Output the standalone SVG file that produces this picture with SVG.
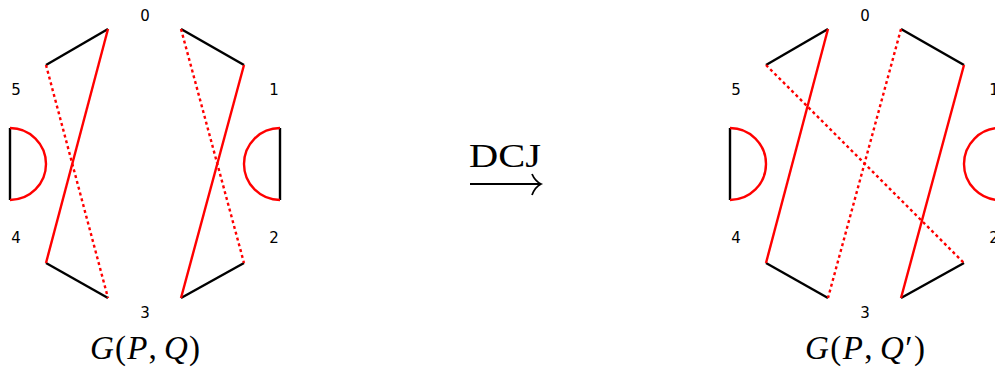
<svg xmlns="http://www.w3.org/2000/svg" width="995" height="370" viewBox="0 0 995 370">
<style>
.bk{stroke:#000;stroke-width:2.4;fill:none}
.rs{stroke:#f00;stroke-width:2.4;fill:none}
.rd{stroke:#f00;stroke-width:2.4;fill:none;stroke-dasharray:3,3}
.lbl{font-family:"DejaVu Sans",sans-serif;font-size:15px;fill:#000;text-anchor:middle}
.math{font-family:"Liberation Serif",serif;font-size:33px;fill:#000;text-anchor:middle}
</style>
<rect width="995" height="370" fill="#fff"/>
<g id="left-graph">
  <g id="L-edges">
    <line class="bk" x1="46" y1="65" x2="108" y2="29"/>
    <line class="bk" x1="181" y1="29" x2="244" y2="65"/>
    <line class="bk" x1="46" y1="263" x2="108" y2="298"/>
    <line class="bk" x1="181" y1="298" x2="244" y2="263"/>
    <line class="rs" x1="108" y1="29" x2="46" y2="263"/>
    <line class="rd" x1="46" y1="65" x2="108" y2="298"/>
    <line class="rs" x1="244" y1="65" x2="181" y2="298"/>
    <line class="rd" x1="181" y1="29" x2="244" y2="263"/>
    <line class="bk" x1="10" y1="128" x2="10" y2="200"/>
    <path class="rs" d="M10,128 A36,36 0 0 1 10,200"/>
    <line class="bk" x1="280" y1="128" x2="280" y2="200"/>
    <path class="rs" d="M280,128 A36,36 0 0 0 280,200"/>
  </g>
  <g id="L-labels">
    <text class="lbl" x="145" y="21">0</text>
    <text class="lbl" x="274" y="95">1</text>
    <text class="lbl" x="274" y="243">2</text>
    <text class="lbl" x="145" y="318">3</text>
    <text class="lbl" x="16" y="243">4</text>
    <text class="lbl" x="16" y="95">5</text>
  </g>
  <text class="math" x="145" y="359" textLength="110" lengthAdjust="spacing"><tspan font-style="italic">G</tspan>(<tspan font-style="italic">P</tspan>,<tspan font-style="italic" dx="6">Q</tspan>)</text>
</g>
<g id="dcj-arrow">
  <text class="math" x="505" y="167" font-size="31" textLength="72" lengthAdjust="spacingAndGlyphs">DCJ</text>
  <line x1="470" y1="184" x2="540" y2="184" stroke="#000" stroke-width="1.8"/>
  <path d="M532,174 Q535,181 541,184 Q535,187 532,195" stroke="#000" stroke-width="1.8" fill="none"/>
</g>
<g id="right-graph">
  <g id="R-edges">
    <line class="bk" x1="766" y1="65" x2="828" y2="29"/>
    <line class="bk" x1="901" y1="29" x2="964" y2="65"/>
    <line class="bk" x1="766" y1="263" x2="828" y2="298"/>
    <line class="bk" x1="901" y1="298" x2="964" y2="263"/>
    <line class="rs" x1="828" y1="29" x2="766" y2="263"/>
    <line class="rs" x1="964" y1="65" x2="901" y2="298"/>
    <line class="rd" x1="766" y1="65" x2="964" y2="263"/>
    <line class="rd" x1="901" y1="29" x2="828" y2="298"/>
    <line class="bk" x1="730" y1="128" x2="730" y2="200"/>
    <path class="rs" d="M730,128 A36,36 0 0 1 730,200"/>
    <line class="bk" x1="1000" y1="128" x2="1000" y2="200"/>
    <path class="rs" d="M1000,128 A36,36 0 0 0 1000,200"/>
  </g>
  <g id="R-labels">
    <text class="lbl" x="865" y="21">0</text>
    <text class="lbl" x="994" y="95">1</text>
    <text class="lbl" x="994" y="243">2</text>
    <text class="lbl" x="865" y="318">3</text>
    <text class="lbl" x="736" y="243">4</text>
    <text class="lbl" x="736" y="95">5</text>
  </g>
  <text class="math" x="865" y="359" textLength="120" lengthAdjust="spacing"><tspan font-style="italic">G</tspan>(<tspan font-style="italic">P</tspan>,<tspan font-style="italic" dx="6">Q</tspan>′)</text>
</g>
</svg>
